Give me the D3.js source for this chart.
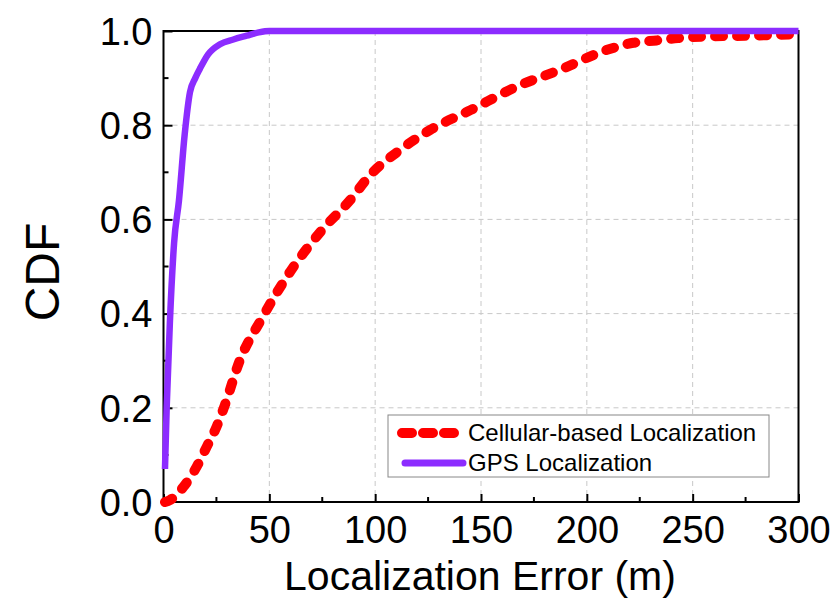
<!DOCTYPE html>
<html>
<head>
<meta charset="utf-8">
<script src="https://cdn.jsdelivr.net/npm/d3@7"></script>
<style>
  body { margin: 0; background: #fff; }
  text { font-family: Arial, "Liberation Sans", sans-serif; fill: #000; }
</style>
</head>
<body>
<svg id="chart" width="836" height="604"></svg>
<script>
// GPS Localization [error m, cdf]
var gpsError = [0.7, 1.5, 3, 5, 7.3, 10, 12.5, 15, 17.2, 21, 26.7, 33, 39.3, 45, 50, 300];
var gpsCdf   = [0.07, 0.2, 0.38, 0.55, 0.64, 0.78, 0.87, 0.9, 0.92, 0.95, 0.972, 0.982, 0.99, 0.997, 1.0, 1.0];

// Cellular-based Localization
var cellError = [0.7, 3, 9.4, 15.7, 20.4, 25.1, 29, 36, 46.5, 60, 75, 88, 97.6, 111.6, 126, 145, 168.5, 187, 209.6, 222, 233, 243, 254, 276, 297];
var cellCdf   = [0, 0.004, 0.032, 0.075, 0.117, 0.16, 0.206, 0.30, 0.39, 0.49, 0.578, 0.64, 0.694, 0.747, 0.79, 0.832, 0.885, 0.917, 0.96, 0.975, 0.98, 0.985, 0.988, 0.99, 0.993];

var xTicks = [0, 50, 100, 150, 200, 250, 300];
var yTicks = [0, 0.2, 0.4, 0.6, 0.8, 1.0];
var xMinor = [25, 75, 125, 175, 225, 275];
var yMinor = [0.1, 0.3, 0.5, 0.7, 0.9];

var seriesNames = ["Cellular-based Localization", "GPS Localization"];
var red = "#ff0000", purple = "#8c2cff";

var svg = d3.select("#chart");
var padL = 163.5, padT = 31, w = 635, h = 471;

var x = d3.scaleLinear().domain([0, 300]).range([0, w]);
var y = d3.scaleLinear().domain([0, 1]).range([h, 0]);

var g = svg.append("g").attr("transform", "translate(" + padL + "," + padT + ")");

// grid
g.selectAll(".gx").data(xTicks.slice(1, -1)).enter().append("line")
    .attr("x1", function(d) { return x(d); }).attr("x2", function(d) { return x(d); })
    .attr("y1", 0).attr("y2", h)
    .attr("stroke", "#c8c8c8").attr("stroke-width", 1).attr("stroke-dasharray", "5,4");
g.selectAll(".gy").data(yTicks.slice(1, -1)).enter().append("line")
    .attr("y1", function(d) { return y(d); }).attr("y2", function(d) { return y(d); })
    .attr("x1", 0).attr("x2", w)
    .attr("stroke", "#c8c8c8").attr("stroke-width", 1).attr("stroke-dasharray", "5,4");

// frame
g.append("rect").attr("width", w).attr("height", h)
    .attr("fill", "none").attr("stroke", "#000").attr("stroke-width", 2);

// axes, ticks pointing inward
var xAxis = g.append("g").attr("transform", "translate(0," + h + ")")
    .call(d3.axisBottom(x).tickValues(xTicks).tickSizeInner(-8).tickSizeOuter(0).tickPadding(14)
        .tickFormat(d3.format("d")));
var yAxis = g.append("g")
    .call(d3.axisLeft(y).tickValues(yTicks).tickSizeInner(-9).tickSizeOuter(0).tickPadding(11)
        .tickFormat(d3.format(".1f")));
[xAxis, yAxis].forEach(function(a) {
    a.select(".domain").remove();
    a.selectAll("line").attr("stroke", "#000").attr("stroke-width", 2);
    a.selectAll("text").style("font-size", "38px").style("font-family", "Arial, 'Liberation Sans', sans-serif");
});
xAxis.selectAll("text").attr("dy", "0.71em");
yAxis.selectAll("text").attr("dy", "0.35em");

g.selectAll(".mx").data(xMinor).enter().append("line")
    .attr("x1", function(d) { return x(d); }).attr("x2", function(d) { return x(d); })
    .attr("y1", h).attr("y2", h - 5).attr("stroke", "#000").attr("stroke-width", 2);
g.selectAll(".my").data(yMinor).enter().append("line")
    .attr("y1", function(d) { return y(d); }).attr("y2", function(d) { return y(d); })
    .attr("x1", 0).attr("x2", 5).attr("stroke", "#000").attr("stroke-width", 2);

// curves
var line = d3.line()
    .x(function(d) { return x(d[0]); })
    .y(function(d) { return y(d[1]); })
    .curve(d3.curveMonotoneX);

g.append("path").datum(d3.zip(cellError, cellCdf))
    .attr("d", line).attr("fill", "none")
    .attr("stroke", red).attr("stroke-width", 10)
    .attr("stroke-linecap", "round").attr("stroke-dasharray", "8,14");
g.append("path").datum(d3.zip(gpsError, gpsCdf))
    .attr("d", line).attr("fill", "none")
    .attr("stroke", purple).attr("stroke-width", 6.5)
    .attr("stroke-linejoin", "round");

// axis titles
svg.append("text").attr("x", padL + w / 2 - 1).attr("y", 590)
    .attr("text-anchor", "middle").style("font-size", "41px")
    .text("Localization Error (m)");
svg.append("text").attr("transform", "translate(59,272) rotate(-90)")
    .attr("text-anchor", "middle").style("font-size", "48px")
    .text("CDF");

// legend
var lg = svg.append("g");
lg.append("rect").attr("x", 388).attr("y", 415).attr("width", 381).attr("height", 62)
    .attr("fill", "#fff").attr("stroke", "#888").attr("stroke-width", 1);
lg.append("line").attr("x1", 402).attr("x2", 462).attr("y1", 433).attr("y2", 433)
    .attr("stroke", red).attr("stroke-width", 10).attr("stroke-linecap", "round")
    .attr("stroke-dasharray", "10,11");
lg.append("line").attr("x1", 405).attr("x2", 463).attr("y1", 463).attr("y2", 463)
    .attr("stroke", purple).attr("stroke-width", 7).attr("stroke-linecap", "round");
lg.selectAll("text").data(seriesNames).enter().append("text")
    .attr("x", 468).attr("y", function(d, i) { return 433 + i * 30; })
    .attr("dy", "0.35em").style("font-size", "24px")
    .text(function(d) { return d; });
</script>
</body>
</html>
